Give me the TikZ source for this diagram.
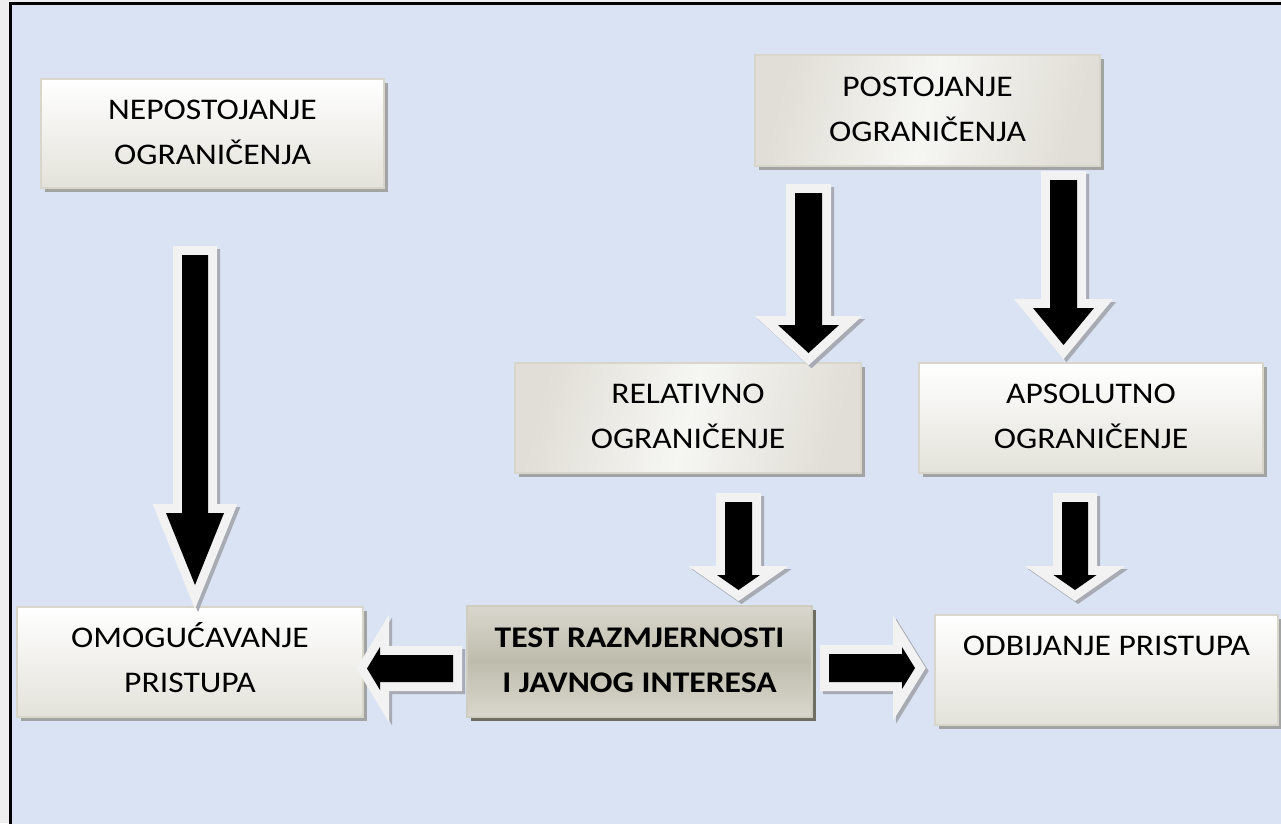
\documentclass[tikz,border=0pt]{standalone}
\usepackage{fontspec}
\setmainfont{Carlito}[FakeStretch=1.12]
\usetikzlibrary{shadows}
\definecolor{bgblue}{HTML}{DAE3F3}
\definecolor{stripgray}{HTML}{EEEEEE}
\definecolor{boxedge}{HTML}{D8D6CB}
\definecolor{boxbot}{HTML}{E3E2DA}
\definecolor{boxdark}{HTML}{E0DED6}
\definecolor{boxlight}{HTML}{F6F6F3}
\definecolor{boxshadowc}{HTML}{A2A3A3}
\definecolor{testtop}{HTML}{DAD8CE}
\definecolor{testmid}{HTML}{BEBCAC}
\definecolor{testedge}{HTML}{CFCDBF}
\definecolor{testshadowc}{HTML}{6E6E62}
\definecolor{arrowwhite}{HTML}{F2F2F2}
\definecolor{arrowshadowc}{HTML}{A8ABB3}
\tikzset{
  boxbase/.style={draw=boxedge, line width=1.5pt, align=center, inner sep=0pt,
    text height=67pt, text depth=6pt, font=\fontsize{30}{45}\selectfont,
    minimum width=344pt, minimum height=110pt,
    general shadow={fill=boxshadowc, shadow xshift=3.5pt, shadow yshift=-3.5pt}},
  plainbox/.style={boxbase, top color=white, bottom color=boxbot},
  diagbox/.style={boxbase, left color=boxdark, right color=boxdark, middle color=boxlight, shading angle=75},
  testbox/.style={boxbase, draw=testedge, top color=testtop, bottom color=testtop, middle color=testmid,
    general shadow={fill=testshadowc, shadow xshift=3.5pt, shadow yshift=-3.5pt}},
  arrowshadowst/.style={draw=arrowshadowc, fill=arrowshadowc, line width=18pt, line join=miter, miter limit=10, shift={(3,3)}},
  arrowoutline/.style={draw=arrowwhite, fill=arrowwhite, line width=18pt, line join=miter, miter limit=10},
  arrowcore/.style={fill=black}
}
\newcommand{\blockarrow}[1]{%
  \draw[arrowshadowst] #1;
  \draw[arrowoutline] #1;
  \fill[arrowcore] #1;}
\begin{document}
\begin{tikzpicture}[x=1pt, y=-1pt]
\useasboundingbox (0,0) rectangle (1281,823);
\fill[stripgray] (0,0) rectangle (1281,823);
\filldraw[fill=bgblue, draw=black, line width=2.5pt] (10.5,3.5) rectangle (1295,835);

% boxes
\node[plainbox, minimum width=343pt, minimum height=109pt] (nepost) at (212.5,133.5) {NEPOSTOJANJE\\OGRANIČENJA};
\node[diagbox, minimum width=345pt, minimum height=111pt] (post) at (927.5,110.5) {POSTOJANJE\\OGRANIČENJA};
\node[diagbox, minimum width=346pt] (rel) at (688,418) {RELATIVNO\\OGRANIČENJE};
\node[plainbox] (aps) at (1091,418) {APSOLUTNO\\OGRANIČENJE};
\node[plainbox, minimum width=346pt] (omog) at (190,662) {OMOGUĆAVANJE\\PRISTUPA};
\node[testbox, minimum width=345pt, minimum height=111pt] (test) at (639.5,661.5) {\bfseries TEST RAZMJERNOSTI\\\bfseries I JAVNOG INTERESA};
\node[plainbox, minimum width=343pt] (odb) at (1106.5,670) {ODBIJANJE PRISTUPA\\\mbox{}};

% block arrows
% nepostojanje -> omogucavanje
\blockarrow{(182,255) -- (208,255) -- (208,513) -- (224,513) -- (195,585) -- (166,513) -- (182,513) -- cycle}
% postojanje -> relativno
\blockarrow{(795,193) -- (822,193) -- (822,325) -- (839,325) -- (808.5,353) -- (778,325) -- (795,325) -- cycle}
% postojanje -> apsolutno
\blockarrow{(1050,180) -- (1077,180) -- (1077,308) -- (1094,308) -- (1063.5,345) -- (1033,308) -- (1050,308) -- cycle}
% relativno -> test
\blockarrow{(725,502) -- (752,502) -- (752,575) -- (760,575) -- (738.5,590) -- (717,575) -- (725,575) -- cycle}
% apsolutno -> odbijanje
\blockarrow{(1062,502) -- (1088,502) -- (1088,575) -- (1096.5,575) -- (1075,590) -- (1053.5,575) -- (1062,575) -- cycle}
% test -> omogucavanje
\blockarrow{(453,655) -- (453,682) -- (380,682) -- (380,690) -- (367,668.5) -- (380,647) -- (380,655) -- cycle}
% test -> odbijanje
\blockarrow{(829,654) -- (829,682) -- (902,682) -- (902,689) -- (915,668) -- (902,647) -- (902,654) -- cycle}
\end{tikzpicture}
\end{document}
